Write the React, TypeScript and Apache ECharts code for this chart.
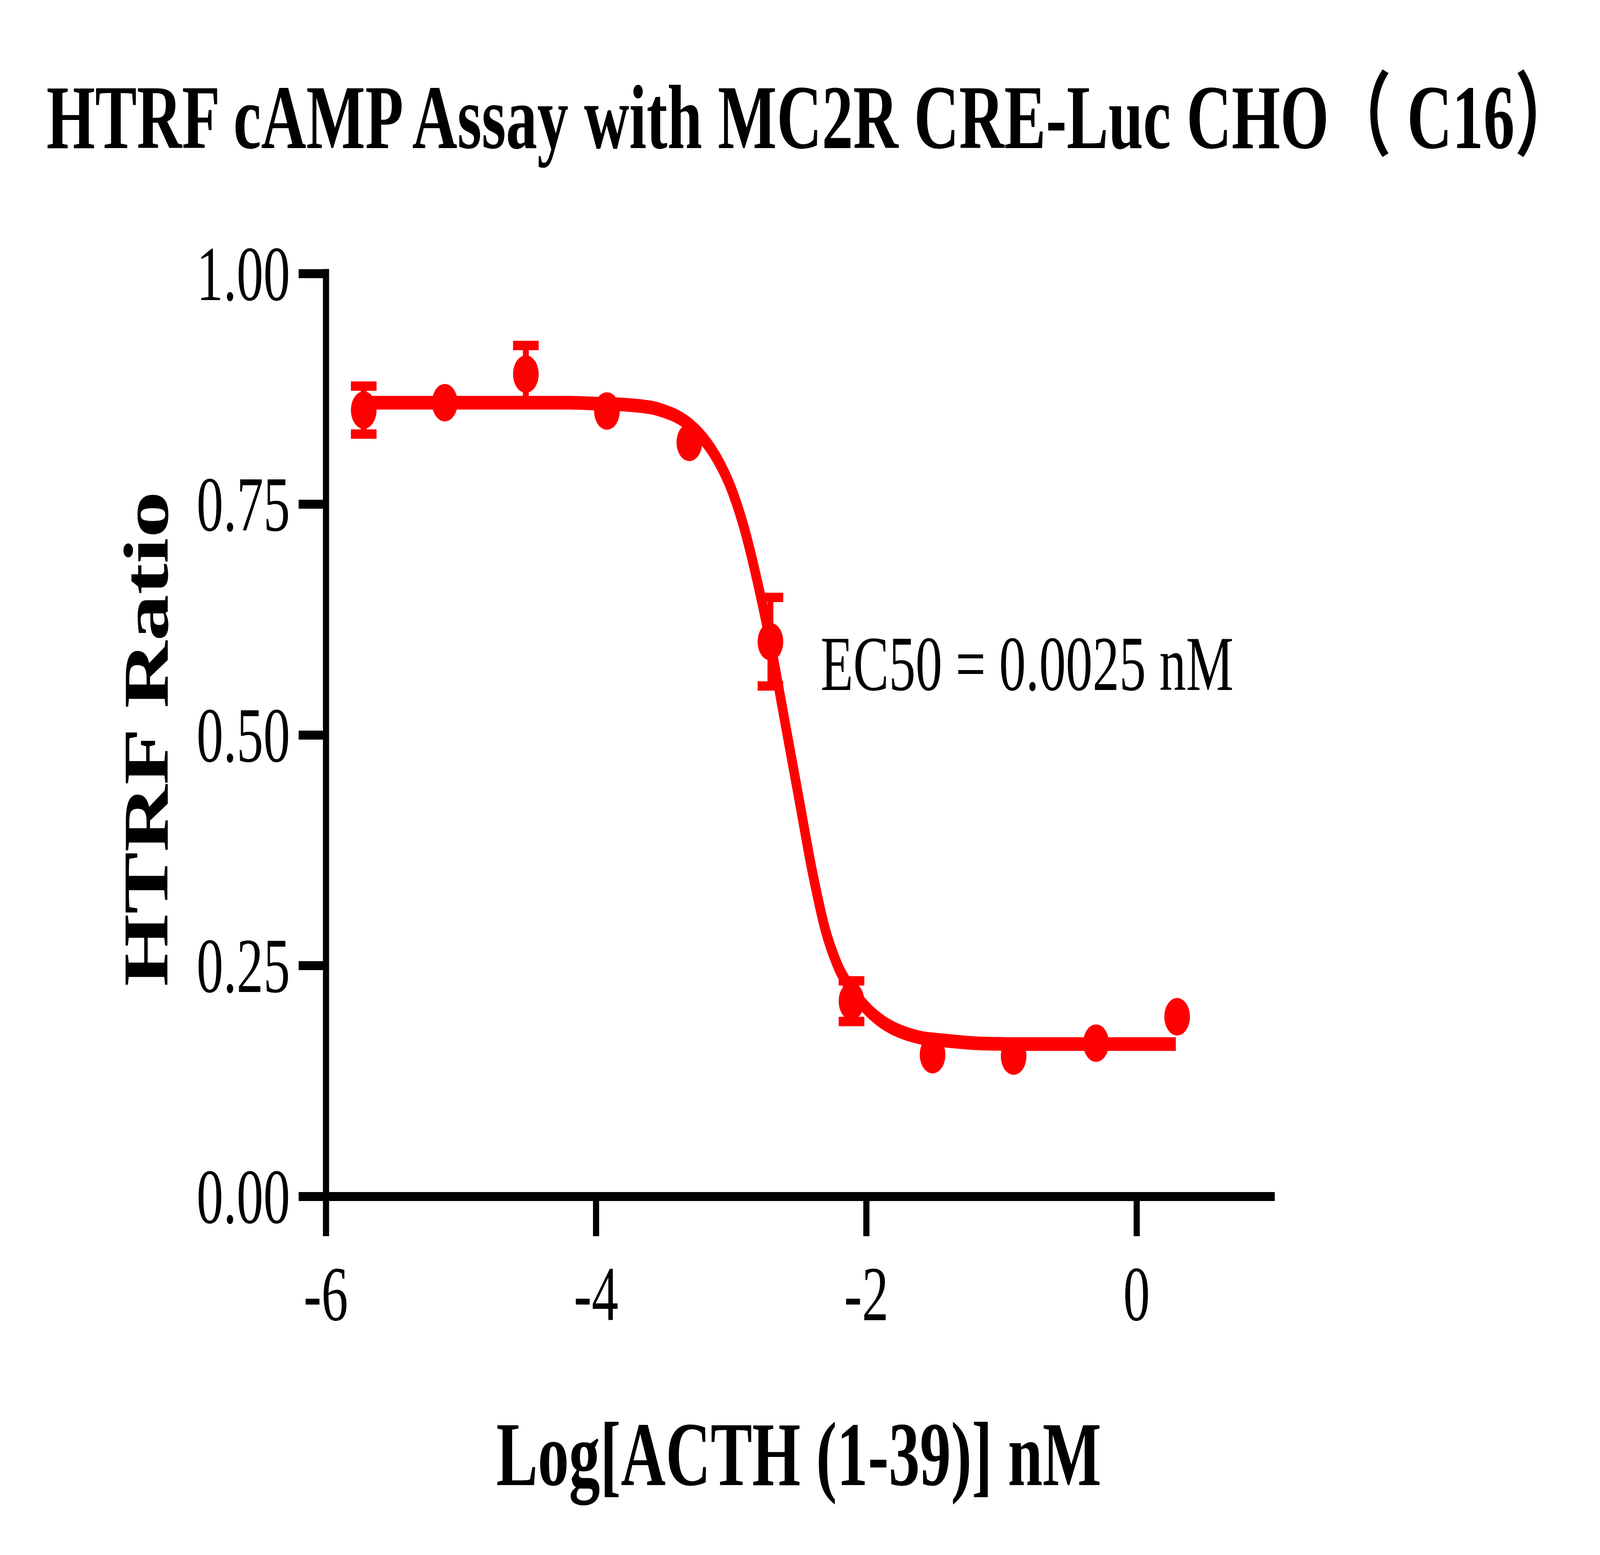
import React, { useEffect, useRef } from "react";
import * as echarts from "echarts";

const titleText = "HTRF cAMP Assay with MC2R CRE-Luc CHO（ C16）";
const xName = "Log[ACTH (1-39)] nM";
const yName = "HTRF Ratio";
const ec50Label = "EC50 = 0.0025 nM";

// measured points: log concentration, mean, SEM
const logConc = [-5.72, -5.12, -4.52, -3.92, -3.31, -2.71, -2.11, -1.51, -0.91, -0.30, 0.30];
const meanVals = [0.852, 0.860, 0.891, 0.851, 0.817, 0.601, 0.2115, 0.1535, 0.152, 0.166, 0.1946];
const semVals = [0.026, 0, 0.031, 0, 0, 0.048, 0.022, 0, 0, 0, 0];

// fitted curve
const curveX = [-5.72, -5.0, -4.5, -4.2, -4.0, -3.8, -3.6, -3.5, -3.4, -3.3, -3.2, -3.1, -3.0, -2.9, -2.8, -2.7, -2.6, -2.5, -2.4, -2.3, -2.2, -2.1, -2.0, -1.9, -1.8, -1.7, -1.6, -1.5, -1.2, -0.8, 0.29];
const curveY = [0.860, 0.860, 0.860, 0.860, 0.859, 0.858, 0.855, 0.851, 0.845, 0.835, 0.820, 0.798, 0.767, 0.722, 0.662, 0.592, 0.512, 0.432, 0.352, 0.287, 0.246, 0.222, 0.204, 0.191, 0.182, 0.176, 0.172, 0.170, 0.166, 0.165, 0.165];

const xTicks = { min: -6, max: 1, interval: 2 };
const yTicks = { min: 0, max: 1, interval: 0.25 };

const RED = "#FF0000";
const SERIF = "'Liberation Serif', 'Times New Roman', 'Noto Sans CJK SC', serif";
const REF_W = 5990;
const REF_H = 3980;

export default function App() {
  const ref = useRef<HTMLDivElement>(null);
  const vw = typeof window !== "undefined" ? window.innerWidth || REF_W : REF_W;
  const vh = typeof window !== "undefined" ? window.innerHeight || REF_H : REF_H;
  const sx = vw / REF_W;
  const sy = vh / REF_H;

  useEffect(() => {
    if (!ref.current) return;
    const chart = echarts.init(ref.current, null, { renderer: "svg" });
    const errData = logConc
      .map((x, i) => [x, meanVals[i], semVals[i]])
      .filter((d) => d[2] > 0);
    chart.setOption({
      animation: false,
      backgroundColor: "#ffffff",
      title: {
        text: titleText,
        left: 174,
        top: 183,
        padding: 0,
        textStyle: { fontFamily: SERIF, fontWeight: "bold", fontSize: 234, color: "#000" },
      },
      grid: { left: 1220, top: 700, width: 3541, height: 2362, containLabel: false },
      xAxis: {
        type: "value",
        min: xTicks.min,
        max: xTicks.max,
        interval: xTicks.interval,
        name: xName,
        nameLocation: "middle",
        nameGap: 544,
        nameTextStyle: { fontFamily: SERIF, fontWeight: "bold", fontSize: 233, color: "#000" },
        axisLine: { show: true, onZero: false, lineStyle: { color: "#000", width: 23, cap: "square" } },
        axisTick: { show: true, inside: false, length: 102, lineStyle: { color: "#000", width: 23 } },
        axisLabel: { margin: 149, fontFamily: SERIF, fontSize: 200, color: "#000", showMaxLabel: false },
        splitLine: { show: false },
      },
      yAxis: {
        type: "value",
        min: yTicks.min,
        max: yTicks.max,
        interval: yTicks.interval,
        name: yName,
        nameLocation: "middle",
        nameGap: 554,
        nameTextStyle: {
          fontFamily: SERIF,
          fontWeight: "bold",
          fontSize: 238,
          color: "#000",
          padding: [0, 20, 0, 0],
        },
        axisLine: { show: true, onZero: false, lineStyle: { color: "#000", width: 23, cap: "square" } },
        axisTick: { show: true, inside: false, length: 102, lineStyle: { color: "#000", width: 23 } },
        axisLabel: {
          margin: 134,
          fontFamily: SERIF,
          fontSize: 200,
          color: "#000",
          formatter: (v: number) => v.toFixed(2),
        },
        splitLine: { show: false },
      },
      graphic: [
        {
          type: "text",
          left: 3072,
          top: 1598,
          style: { text: ec50Label, fontFamily: SERIF, fontSize: 200, fill: "#000" },
          z: 10,
        },
      ],
      series: [
        {
          type: "custom",
          z: 1,
          clip: false,
          data: errData,
          renderItem: (params: any, api: any) => {
            const x = api.value(0);
            const y = api.value(1);
            const e = api.value(2);
            const t = api.coord([x, y + e]);
            const b = api.coord([x, y - e]);
            const half = 48;
            return {
              type: "group",
              children: [
                { type: "line", shape: { x1: t[0], y1: t[1], x2: b[0], y2: b[1] }, style: { stroke: RED, lineWidth: 22 } },
                { type: "line", shape: { x1: t[0] - half, y1: t[1], x2: t[0] + half, y2: t[1] }, style: { stroke: RED, lineWidth: 24 } },
                { type: "line", shape: { x1: b[0] - half, y1: b[1], x2: b[0] + half, y2: b[1] }, style: { stroke: RED, lineWidth: 24 } },
              ],
            };
          },
        },
        {
          type: "line",
          z: 2,
          data: curveX.map((x, i) => [x, curveY[i]]),
          showSymbol: false,
          smooth: 0.3,
          lineStyle: { color: RED, width: 35 },
        },
        {
          type: "scatter",
          z: 3,
          data: logConc.map((x, i) => [x, meanVals[i]]),
          symbol: "circle",
          symbolSize: 96,
          itemStyle: { color: RED, opacity: 1 },
        },
      ],
    });
    return () => chart.dispose();
  }, []);

  return (
    <div
      style={{
        position: "absolute",
        left: 0,
        top: 0,
        width: "100vw",
        height: "100vh",
        overflow: "hidden",
        background: "#fff",
      }}
    >
      <div
        ref={ref}
        style={{
          width: REF_W,
          height: REF_H,
          transform: `scale(${sx}, ${sy})`,
          transformOrigin: "0 0",
        }}
      />
    </div>
  );
}
